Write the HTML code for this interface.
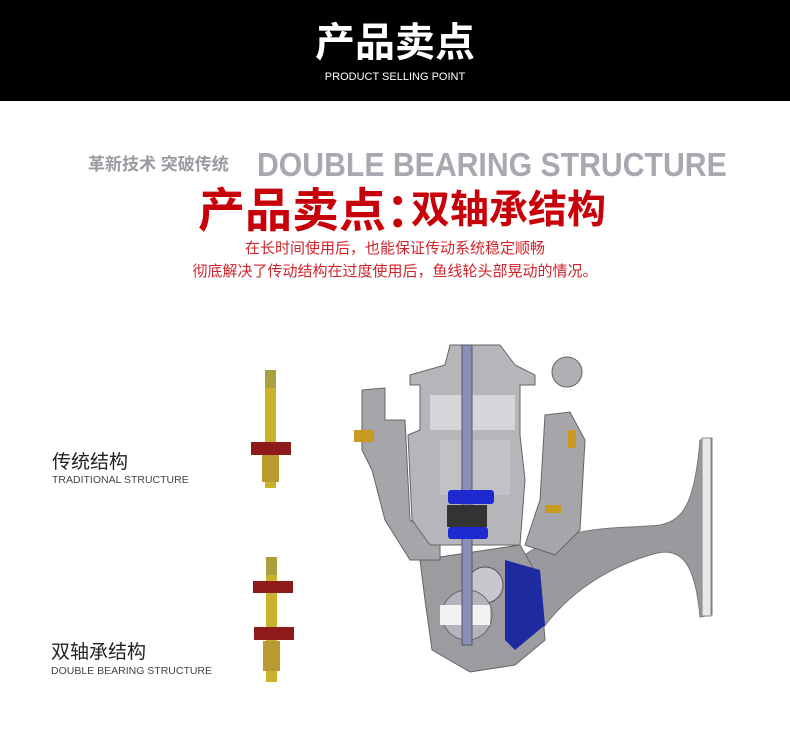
<!DOCTYPE html>
<html><head><meta charset="utf-8"><style>
body{margin:0;width:790px;height:732px;background:#fff;position:relative;overflow:hidden;font-family:"Liberation Sans","Noto Sans CJK SC",sans-serif}
.a{position:absolute;white-space:nowrap}
</style></head><body>
<div class="a" style="left:0;top:0;width:790px;height:101px;background:#000"></div>
<div class="a" style="left:0;width:790px;top:18px;text-align:center;color:#fff;font-size:40px;font-weight:bold;line-height:50px">产品卖点</div>
<div class="a" style="left:0;width:790px;top:71px;text-align:center;color:#fff;font-size:11px">PRODUCT SELLING POINT</div>

<div class="a" style="left:88px;top:154px;color:#9a9aa0;font-size:17px;font-weight:bold;line-height:22px">革新技术 突破传统</div>
<div class="a" style="left:257px;top:146px;color:#a8a8b0;font-size:33px;font-weight:bold;line-height:38px;transform:scaleX(0.915);transform-origin:0 0">DOUBLE BEARING STRUCTURE</div>
<div class="a" style="left:198px;top:184px;color:#c8000a;font-size:47px;font-weight:bold;line-height:54px">产品卖点</div>
<div class="a" style="left:386px;top:184px;color:#c8000a;font-size:47px;font-weight:bold;line-height:54px">：</div>
<div class="a" style="left:411px;top:190px;color:#c8000a;font-size:39px;font-weight:bold;line-height:42px">双轴承结构</div>
<div class="a" style="left:0;width:790px;top:239px;text-align:center;color:#d0242c;font-size:15px;line-height:20px">在长时间使用后，也能保证传动系统稳定顺畅</div>
<div class="a" style="left:0;width:790px;top:262px;text-align:center;color:#d0242c;font-size:15px;line-height:20px">彻底解决了传动结构在过度使用后，鱼线轮头部晃动的情况。</div>

<div class="a" style="left:52px;top:451px;color:#222;font-size:19px;line-height:24px">传统结构</div>
<div class="a" style="left:52px;top:474px;color:#444;font-size:10.5px">TRADITIONAL STRUCTURE</div>
<div class="a" style="left:51px;top:641px;color:#222;font-size:19px;line-height:24px">双轴承结构</div>
<div class="a" style="left:51px;top:665px;color:#444;font-size:10.5px">DOUBLE BEARING STRUCTURE</div>

<svg class="a" style="left:0;top:0" width="790" height="732">
<rect x="265" y="370" width="11" height="118" fill="#c9b22c"/>
<rect x="265" y="370" width="11" height="18" fill="#a9a040"/>
<rect x="262" y="454" width="17" height="28" fill="#b89a30"/>
<rect x="251" y="442" width="40" height="13" fill="#8e1a1a"/>
<rect x="266" y="557" width="11" height="125" fill="#c9b22c"/>
<rect x="266" y="557" width="11" height="18" fill="#a9a040"/>
<rect x="263" y="641" width="17" height="30" fill="#b89a30"/>
<rect x="253" y="581" width="40" height="12" fill="#8e1a1a"/>
<rect x="254" y="627" width="40" height="13" fill="#8e1a1a"/>
<path d="M505,570 C560,520 620,530 660,525 C685,520 695,500 700,440 L712,438 L712,615 L700,617 C695,560 680,545 650,555 C600,570 560,600 535,640 Z" fill="#9a9a9e" stroke="#777" stroke-width="1"/>
<rect x="702" y="438" width="9" height="178" fill="#e8e8ea" stroke="#888"/>
<path d="M420,560 L520,545 L540,580 L545,640 L515,665 L470,672 L432,650 L425,600 Z" fill="#9c9ca0" stroke="#666"/>
<path d="M505,560 L540,570 L545,625 L515,650 L505,640 Z" fill="#1e2aa0"/>
<circle cx="485" cy="585" r="18" fill="#c8c8cc" stroke="#555"/>
<circle cx="467" cy="615" r="25" fill="#b4b4be" stroke="#666"/>
<rect x="440" y="605" width="50" height="20" fill="#f2f2f2"/>
<path d="M362,390 L385,388 L385,420 L405,420 L410,520 L440,540 L440,560 L410,560 L385,520 L372,470 L362,450 Z" fill="#a6a6aa" stroke="#666"/>
<path d="M545,415 L570,412 L585,440 L580,530 L555,555 L525,545 L540,500 Z" fill="#a6a6aa" stroke="#666"/>
<circle cx="567" cy="372" r="15" fill="#b0b0b4" stroke="#666"/>
<path d="M410,375 L445,365 L450,345 L500,345 L515,365 L535,375 L535,385 L520,385 L520,435 L525,480 L520,545 L430,545 L412,520 L408,435 L420,430 L420,385 L410,385 Z" fill="#b6b6ba" stroke="#666"/>
<rect x="430" y="395" width="85" height="35" fill="#d6d6da"/>
<rect x="440" y="440" width="70" height="55" fill="#c2c2c6"/>
<rect x="462" y="345" width="10" height="300" fill="#8a8fb8" stroke="#556"/>
<rect x="448" y="490" width="46" height="14" rx="3" fill="#1e2ad0"/>
<rect x="448" y="527" width="40" height="12" rx="3" fill="#1e2ad0"/>
<rect x="447" y="505" width="40" height="22" fill="#333"/>
<rect x="354" y="430" width="20" height="12" fill="#c99a20"/>
<rect x="568" y="430" width="8" height="18" fill="#c99a20"/>
<rect x="545" y="505" width="16" height="8" fill="#c99a20"/>
</svg>
</body></html>
